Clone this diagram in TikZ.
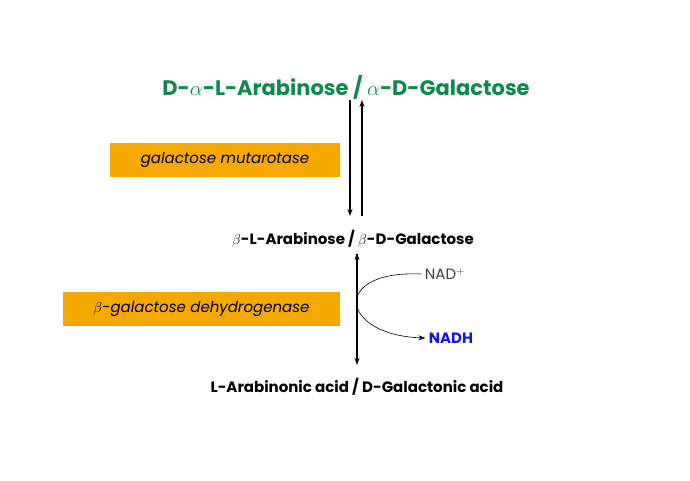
\documentclass[tikz,border=0pt]{standalone}
\usepackage{fontspec}
\setmainfont{Poppins}
\usepackage{xcolor}
\usetikzlibrary{positioning, arrows.meta}
\definecolor{titlegreen}{HTML}{0B8A4E}
\definecolor{enzorange}{HTML}{F5A800}
\definecolor{nadblue}{HTML}{1414E6}
\tikzset{
  enzyme/.style={fill=enzorange, inner sep=0pt, minimum height=34pt, font=\fontsize{15}{18}\selectfont\itshape},
  compound/.style={font=\fontsize{15}{18}\selectfont\bfseries},
  rxn/.style={-{Stealth[length=7pt,width=5pt]}, line width=1.2pt},
}
\begin{document}
\begin{tikzpicture}[x=1pt,y=1pt]
\useasboundingbox (0,0) rectangle (690,480);
% compounds
\node[compound, text=titlegreen, font=\fontsize{21}{25}\selectfont\bfseries] (S0) at (346,393) {D-$\alpha$-L-Arabinose / $\alpha$-D-Galactose};
\node[compound] (S1) at (353,241) {$\beta$-L-Arabinose / $\beta$-D-Galactose};
\node[compound] (S2) at (357,93) {L-Arabinonic acid / D-Galactonic acid};

% enzymes
\node[enzyme, minimum width=230pt] (E1) at (225,320) {galactose mutarotase};
\node[enzyme, minimum width=277pt] (E2) at (201.5,171) {$\beta$-galactose dehydrogenase};

% cofactors
\node[font=\fontsize{15}{18}\selectfont, text=black!75] (NAD) at (445,206) {NAD$^{+}$};
\node[font=\fontsize{15}{18}\selectfont\bfseries, text=nadblue] (NADH) at (451,142) {NADH};

% reaction arrows
\coordinate (a1) at (350,380);
\coordinate (a2) at (350,264);
\coordinate (b1) at (362,264);
\coordinate (b2) at (362,380);
\draw[rxn] (a1) -- (a2);
\draw[rxn] (b1) -- (b2);
\draw[rxn] (S1.south -| 357,0) ++(0,-2) coordinate (c1);
\draw[rxn] (357,226) -- (357,115);
\draw[-{Stealth[length=7pt,width=5pt]}, line width=0.6pt] (NAD.west) .. controls (330,210) and (340,145) .. (NADH.west);
\end{tikzpicture}
\end{document}
